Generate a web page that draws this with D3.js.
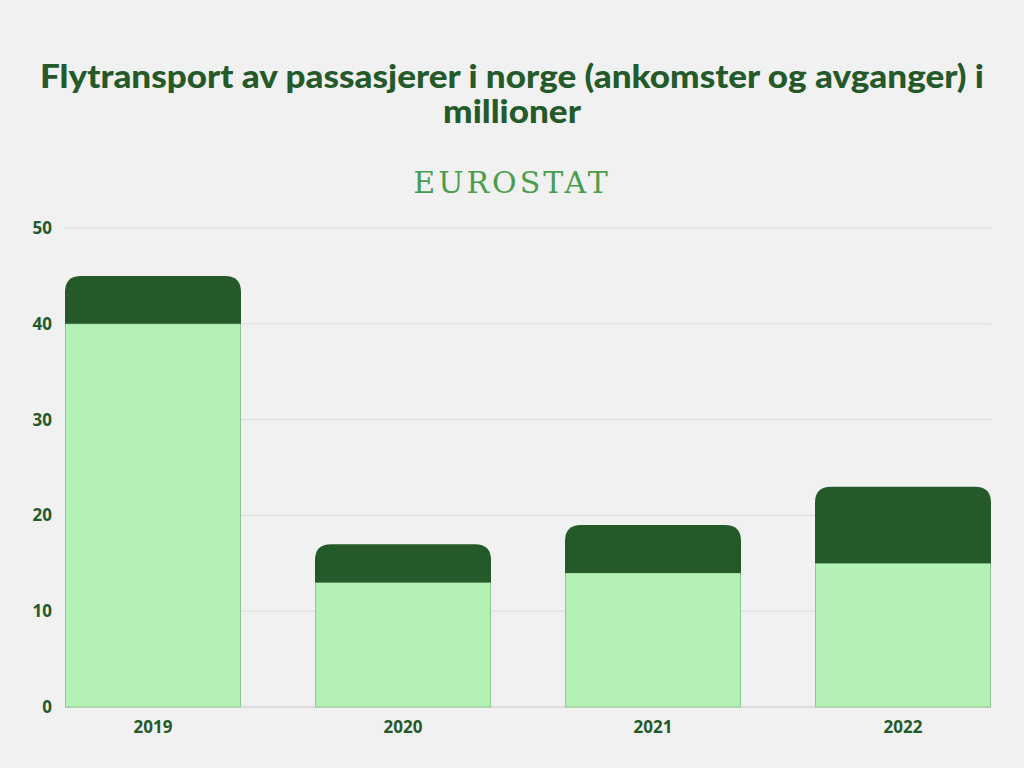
<!DOCTYPE html>
<html>
<head>
<meta charset="utf-8">
<script src="https://cdn.jsdelivr.net/npm/d3@7"></script>
<style>
  html, body { margin: 0; padding: 0; background: #f1f1f1; }
  svg { display: block; }
</style>
</head>
<body>
<svg id="chart"></svg>
<script>
  /// data ///
  const years = ["2019", "2020", "2021", "2022"];
  const lowerValues = [40, 13, 14, 15];   // light part
  const upperValues = [5, 4, 5, 8];       // dark part on top
  const yTicks = [0, 10, 20, 30, 40, 50];
  const titleLines = ["Flytransport av passasjerer i norge (ankomster og avganger) i", "millioner"];

  /// constants ///
  const width = 1024;
  const height = 768;
  const margin = { top: 228, right: 33, bottom: 61, left: 65 };
  const colourLight = "#b3f1b5";
  const colourLightStroke = "#8cc98f";
  const colourDark = "#245a2a";
  const colourText = "#245a2a";
  const radius = 16;

  const svg = d3.select("#chart").attr("width", width).attr("height", height);

  svg.append("rect").attr("width", width).attr("height", height).attr("fill", "#f1f1f1");

  // title: one text, two lines
  const title = svg.append("text")
    .attr("text-anchor", "middle")
    .attr("font-family", "Lato, sans-serif")
    .attr("font-weight", 900)
    .attr("font-size", 33)
    .attr("fill", colourText);

  const spans = title.selectAll("tspan")
    .data(titleLines)
    .join("tspan")
      .attr("x", 512)
      .attr("y", (d, i) => 88 + i * 35)
      .text(d => d);

  // squeeze both lines by the same ratio so line one spans the reference width
  const nat = spans.nodes().map(n => n.getComputedTextLength());
  const ratio = 944 / nat[0];
  spans.attr("textLength", (d, i) => nat[i] * ratio)
    .attr("lengthAdjust", "spacingAndGlyphs");

  svg.append("text")
    .attr("x", 512).attr("y", 193)
    .attr("text-anchor", "middle")
    .attr("font-family", "'DejaVu Serif', serif")
    .attr("font-size", 30)
    .attr("letter-spacing", 3)
    .attr("fill", "#4a9d4f")
    .text("EUROSTAT");

  /// scales ///
  const x = d3.scaleBand()
    .domain(years)
    .range([margin.left, width - margin.right])
    .paddingInner(0.296)
    .paddingOuter(0);

  const y = d3.scaleLinear()
    .domain([0, 50])
    .range([height - margin.bottom, margin.top]);

  // gridlines
  svg.append("g")
    .selectAll("line")
    .data(yTicks)
    .join("line")
      .attr("x1", margin.left)
      .attr("x2", width - margin.right)
      .attr("y1", d => y(d))
      .attr("y2", d => y(d))
      .attr("stroke", d => d === 0 ? "#c8c8c8" : "#dcdcdc")
      .attr("stroke-width", 1);

  // y tick labels
  svg.append("g")
    .selectAll("text")
    .data(yTicks)
    .join("text")
      .attr("x", 52)
      .attr("y", d => y(d))
      .attr("dy", "0.35em")
      .attr("text-anchor", "end")
      .attr("font-family", "'Open Sans', sans-serif")
      .attr("font-weight", 700)
      .attr("font-size", 17)
      .attr("fill", colourText)
      .text(d => d);

  // x labels
  svg.append("g")
    .selectAll("text")
    .data(years)
    .join("text")
      .attr("x", d => x(d) + x.bandwidth() / 2)
      .attr("y", 733)
      .attr("text-anchor", "middle")
      .attr("font-family", "'Open Sans', sans-serif")
      .attr("font-weight", 700)
      .attr("font-size", 17)
      .attr("fill", colourText)
      .text(d => d);

  const rows = years.map((yr, i) => ({ year: yr, lower: lowerValues[i], upper: upperValues[i] }));

  // top part with rounded top corners
  function topPath(x0, w, yTop, yBottom, r) {
    return `M${x0},${yBottom}` +
      `V${yTop + r}` +
      `Q${x0},${yTop} ${x0 + r},${yTop}` +
      `H${x0 + w - r}` +
      `Q${x0 + w},${yTop} ${x0 + w},${yTop + r}` +
      `V${yBottom}Z`;
  }

  const bars = svg.append("g");

  bars.selectAll(".lower")
    .data(rows)
    .join("rect")
      .attr("class", "lower")
      .attr("x", d => x(d.year) + 0.5)
      .attr("width", x.bandwidth() - 1)
      .attr("y", d => y(d.lower))
      .attr("height", d => y(0) - y(d.lower))
      .attr("fill", colourLight)
      .attr("stroke", colourLightStroke)
      .attr("stroke-width", 1);

  bars.selectAll(".upper")
    .data(rows)
    .join("path")
      .attr("class", "upper")
      .attr("d", d => topPath(x(d.year), x.bandwidth(), y(d.lower + d.upper), y(d.lower), radius))
      .attr("fill", colourDark);
</script>
</body>
</html>
